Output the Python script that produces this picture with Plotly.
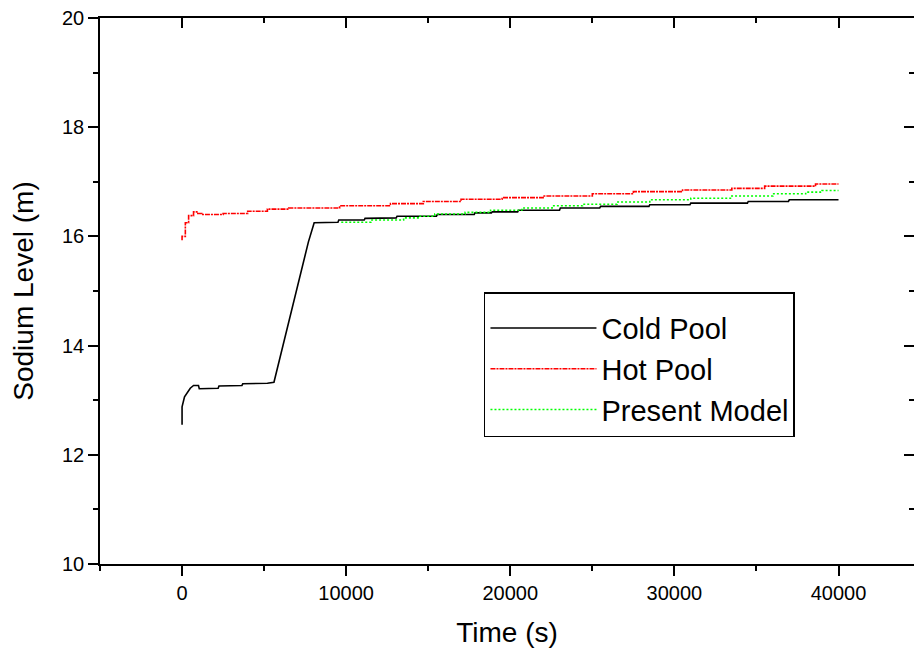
import plotly.graph_objects as go

# Cold Pool (black solid)
cold_t = [0, 0, 150, 500, 700, 1000, 1050, 2200, 2250, 3650, 3700, 5200, 5600, 6150, 6800, 7400, 7700, 8050,
          9500, 9550, 11100, 11150, 13050, 13100, 15500, 15550, 17800, 17850, 18850, 18900, 20450, 20500,
          23000, 23050, 25450, 25500, 28450, 28500, 30950, 31000, 34450, 34500, 36950, 37000, 40000]
cold_y = [12.55, 12.88, 13.06, 13.22, 13.27, 13.27, 13.21, 13.22, 13.26, 13.27, 13.30, 13.31, 13.33, 14.00, 14.75, 15.50, 15.90, 16.25,
          16.26, 16.30, 16.30, 16.33, 16.34, 16.37, 16.37, 16.40, 16.40, 16.43, 16.43, 16.45, 16.45, 16.48,
          16.48, 16.52, 16.52, 16.55, 16.55, 16.58, 16.58, 16.61, 16.61, 16.64, 16.64, 16.67, 16.67]

# Hot Pool (red dash-dot)
hot_t = [0, 0, 200, 400, 700, 900, 1200, 2500, 4000, 5200, 6500, 9000, 9600, 12700, 14700, 17000, 19500, 22000,
         25000, 27500, 30500, 33500, 35500, 38600, 40000]
hot_y = [15.93, 16.00, 16.25, 16.38, 16.45, 16.42, 16.40, 16.42, 16.46, 16.50, 16.52, 16.52, 16.56, 16.60, 16.64, 16.68, 16.71, 16.74,
         16.78, 16.82, 16.85, 16.88, 16.92, 16.96, 16.96]

# Present Model (green dotted)
model_t = [9700, 11500, 13500, 14500, 15400, 17250, 18800, 20700, 22550, 24400, 26500, 28500, 31000, 33500,
           36000, 38000, 39000, 40000]
model_y = [16.26, 16.30, 16.34, 16.37, 16.41, 16.44, 16.48, 16.52, 16.56, 16.59, 16.63, 16.67, 16.70, 16.74,
           16.78, 16.81, 16.84, 16.84]

x_ticks = [0, 10000, 20000, 30000, 40000]
x_tick_labels = ["0", "10000", "20000", "30000", "40000"]
y_ticks = [10, 12, 14, 16, 18, 20]
y_tick_labels = ["10", "12", "14", "16", "18", "20"]
x_range = [-5000, 44600]
y_range = [10, 20]

FONT = "Liberation Sans"

fig = go.Figure()
fig.add_trace(go.Scatter(x=cold_t, y=cold_y, mode="lines", name="Cold Pool",
                         line=dict(color="black", width=1.6)))
fig.add_trace(go.Scatter(x=hot_t, y=hot_y, mode="lines", name="Hot Pool", line_shape="hv",
                         line=dict(color="#ff0000", width=1.6, dash="5px,1px,2px,1px")))
fig.add_trace(go.Scatter(x=model_t, y=model_y, mode="lines", name="Present Model", line_shape="hv",
                         line=dict(color="#00ff00", width=1.6, dash="2px,2px")))
# invisible trace for mirrored axes
fig.add_trace(go.Scatter(x=x_range, y=y_range, mode="lines", xaxis="x2", yaxis="y2",
                         line=dict(color="rgba(0,0,0,0)"), showlegend=False, hoverinfo="skip"))

axis_common = dict(showgrid=False, zeroline=False, showline=True, linecolor="black", linewidth=1.6,
                   tickcolor="black", tickwidth=1.6, ticklen=10)
tickfont = dict(family=FONT, size=20, color="black")

fig.update_layout(
    width=914, height=657,
    margin=dict(l=100, r=0, t=18, b=93),
    plot_bgcolor="white", paper_bgcolor="white",
    font=dict(family=FONT, color="black"),
    xaxis=dict(range=x_range, tickvals=x_ticks, ticktext=x_tick_labels, ticks="outside", tickfont=tickfont,
               minor=dict(dtick=5000, tick0=0, ticks="outside", ticklen=5, tickwidth=1.6, tickcolor="black"),
               title=dict(text="Time (s)", font=dict(family=FONT, size=28, color="black"), standoff=20),
               **axis_common),
    yaxis=dict(range=y_range, tickvals=y_ticks, ticktext=y_tick_labels, ticks="outside", tickfont=tickfont,
               minor=dict(dtick=1, tick0=10, ticks="outside", ticklen=5, tickwidth=1.6, tickcolor="black"),
               title=dict(text="Sodium Level (m)", font=dict(family=FONT, size=28, color="black"), standoff=20),
               **axis_common),
    xaxis2=dict(range=x_range, overlaying="x", side="top", tickvals=x_ticks, ticks="inside",
                showticklabels=False,
                minor=dict(dtick=5000, tick0=0, ticks="inside", ticklen=5, tickwidth=1.6, tickcolor="black"),
                **axis_common),
    yaxis2=dict(range=y_range, overlaying="y", side="right", tickvals=y_ticks, ticks="inside",
                showticklabels=False,
                minor=dict(dtick=1, tick0=10, ticks="inside", ticklen=5, tickwidth=1.6, tickcolor="black"),
                **axis_common),
    legend=dict(x=0.4717, y=0.498, xanchor="left", yanchor="top",
                bordercolor="black", borderwidth=1.5, bgcolor="white",
                font=dict(family=FONT, size=29, color="black"),
                title=dict(text=" ", font=dict(size=7)),
                itemwidth=106,
                tracegroupgap=0),
    showlegend=True,
)

fig.write_html("out.html")
